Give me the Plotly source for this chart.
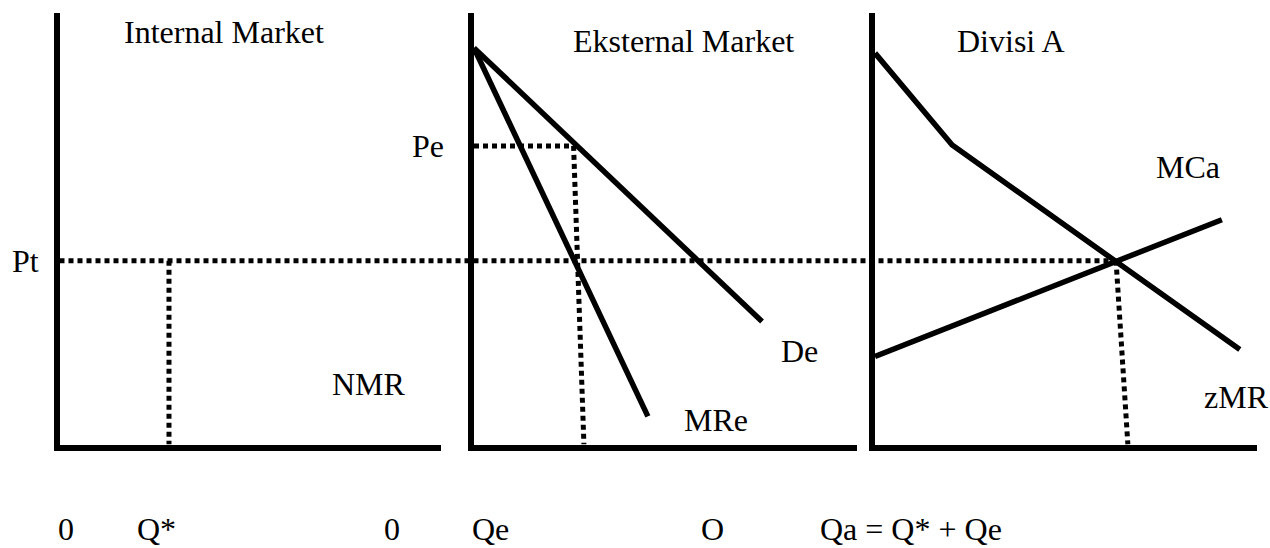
import plotly.graph_objects as go

# ---- data (economic units: Q on x, P on y) ----
p_t = 4.26          # transfer price Pt
p_e = 6.92          # external price Pe
q_star = 2.87       # Q* (internal market)

de_q = [0, 7.52]
de_p = [9.19, 2.85]
mre_q = [0, 4.54]
mre_p = [9.19, 0.65]
pe_line_q = [0, 2.6]
qe_drop_q = [2.6, 2.87]
qe_drop_p = [p_e, 0]

zmr_q = [0, 2.02, 9.55]
zmr_p = [9.07, 6.94, 2.20]
mca_q = [0, 9.08]
mca_p = [2.04, 5.21]
qa_drop_q = [6.31, 6.62]
qa_drop_p = [p_t, 0]

panel_titles = ["Internal Market", "Eksternal Market", "Divisi A"]
curve_labels = ["NMR", "De", "MRe", "MCa", "zMR"]
price_labels = ["Pt", "Pe"]
qty_labels = ["0", "Q*", "0", "Qe", "O", "Qa = Q* + Qe"]

# ---- layout geometry (pixels) ----
W, H = 1270, 548
FONT = dict(family="Liberation Serif, Times New Roman, serif", size=32, color="black")
px = lambda v: v / W
py = lambda v: (H - v) / H
dom = [(px(59.5), px(441)), (px(474), px(857)), (px(875), px(1257))]
ydom = (py(444.5), py(13))
XR = [0, 10]
YR = [0, 10]

SOLID = dict(color="black", width=5.5)
DOT = dict(color="black", width=5, dash="5px,4px")

fig = go.Figure()

def add(x, y, line, k):
    fig.add_trace(go.Scatter(x=x, y=y, mode="lines", line=line,
                             xaxis="x" if k == 1 else f"x{k}",
                             yaxis="y" if k == 1 else f"y{k}",
                             showlegend=False, hoverinfo="skip"))

# panel 1
add([q_star, q_star], [p_t, 0], DOT, 1)
# panel 2
add(pe_line_q, [p_e, p_e], DOT, 2)
add(qe_drop_q, qe_drop_p, DOT, 2)
add(de_q, de_p, SOLID, 2)
add(mre_q, mre_p, SOLID, 2)
# panel 3
add(qa_drop_q, qa_drop_p, DOT, 3)
add(zmr_q, zmr_p, SOLID, 3)
add(mca_q, mca_p, SOLID, 3)

axis_common = dict(showline=True, linewidth=6, linecolor="black", showgrid=False,
                   zeroline=False, showticklabels=False, ticks="")
layout = dict(width=W, height=H, margin=dict(l=0, r=0, t=0, b=0),
              plot_bgcolor="white", paper_bgcolor="white", showlegend=False)
for k in (1, 2, 3):
    sx = "" if k == 1 else str(k)
    layout[f"xaxis{sx}"] = dict(domain=list(dom[k - 1]), range=XR, anchor=f"y{sx}", **axis_common)
    layout[f"yaxis{sx}"] = dict(domain=list(ydom), range=YR, anchor=f"x{sx}", **axis_common)
fig.update_layout(**layout)

# long Pt dotted line through all panels (from panel-1 origin to MCa/zMR crossing)
x_end = dom[2][0] + (qa_drop_q[0] - XR[0]) / (XR[1] - XR[0]) * (dom[2][1] - dom[2][0])
fig.add_shape(type="line", xref="paper", yref="y", x0=dom[0][0], x1=x_end,
              y0=p_t, y1=p_t, line=DOT, layer="above")

def label(text, x, y):
    fig.add_annotation(text=text, x=px(x), y=py(y), xref="paper", yref="paper",
                       showarrow=False, font=FONT, xanchor="center", yanchor="middle")

label(panel_titles[0], 224, 32)
label(panel_titles[1], 683, 41)
label(panel_titles[2], 1011, 41)
label(price_labels[0], 25, 261)
label(price_labels[1], 428, 146)
label(curve_labels[0], 369, 384)
label(curve_labels[1], 799, 351)
label(curve_labels[2], 716, 420)
label(curve_labels[3], 1188, 167)
label(curve_labels[4], 1236, 397)
for t, x in zip(qty_labels, [66, 156, 392, 490, 712, 911]):
    label(t, x, 529)

fig.write_html("out.html", config={"displayModeBar": False},
               post_script="document.body.style.margin='0';")
